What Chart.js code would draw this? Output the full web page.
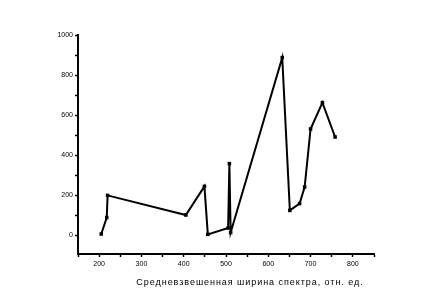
<!DOCTYPE html>
<html>
<head>
<meta charset="utf-8">
<script src="https://cdn.jsdelivr.net/npm/chart.js@4"></script>
<style>
html,body{margin:0;padding:0;background:#fff;}
#wrap{width:434px;height:305px;}
</style>
</head>
<body>
<div id="wrap"><canvas id="c" width="434" height="305"></canvas></div>
<script>
const xValues = [205, 218, 220, 405, 449, 457, 505, 508, 511, 633, 651, 674, 686, 700, 728, 758];
const yValues = [5, 87, 198, 100, 243, 3, 35, 357, 12, 887, 123, 157, 240, 530, 662, 490];
const xTickLabels = [200, 300, 400, 500, 600, 700, 800];
const yTickLabels = [0, 200, 400, 600, 800, 1000];
const xTitle = 'Средневзвешенная ширина спектра, отн. ед.';

const points = xValues.map((x, i) => ({x: x, y: yValues[i]}));

const titlePlugin = {
  id: 'xTitle',
  afterDraw(chart) {
    const ctx = chart.ctx;
    ctx.save();
    ctx.fillStyle = '#000';
    ctx.font = '9px "Liberation Sans", Arial, sans-serif';
    ctx.textBaseline = 'middle';
    ctx.textAlign = 'center';
    if ('letterSpacing' in ctx) ctx.letterSpacing = '0.95px';
    ctx.fillText(xTitle, 250, 283);
    ctx.restore();
  }
};

new Chart(document.getElementById('c'), {
  type: 'line',
  data: {
    datasets: [{
      data: points,
      borderColor: '#000',
      backgroundColor: '#000',
      borderWidth: 2,
      tension: 0,
      pointStyle: 'rect',
      pointRadius: 2.5,
      pointBorderWidth: 0,
      fill: false
    }]
  },
  options: {
    responsive: false,
    animation: false,
    layout: {padding: {left: 0, right: 60, top: 35, bottom: 0}},
    plugins: {legend: {display: false}, tooltip: {enabled: false}},
    scales: {
      x: {
        type: 'linear',
        min: 150, max: 850,
        afterFit(s) { s.height = 51; },
        afterBuildTicks(s) {
          const t = [];
          for (let v = 150; v <= 850; v += 50) t.push({value: v});
          s.ticks = t;
        },
        border: {display: true, color: '#000', width: 2},
        grid: {drawOnChartArea: false, drawTicks: true, tickLength: 3, color: '#000', tickWidth: 1.5},
        ticks: {
          autoSkip: false, maxRotation: 0, padding: 3, color: '#000',
          font: {size: 7, family: '"Liberation Sans", Arial, sans-serif'},
          callback: v => xTickLabels.includes(v) ? String(v) : ''
        }
      },
      y: {
        type: 'linear',
        min: -95, max: 1000,
        afterFit(s) { s.width = 78; },
        afterBuildTicks(s) {
          const t = [];
          for (let v = 0; v <= 1000; v += 100) t.push({value: v});
          s.ticks = t;
        },
        border: {display: true, color: '#000', width: 2},
        grid: {drawOnChartArea: false, drawTicks: true, tickLength: 3, color: '#000', tickWidth: 1.5},
        ticks: {
          autoSkip: false, padding: 2, color: '#000',
          font: {size: 7, family: '"Liberation Sans", Arial, sans-serif'},
          callback: v => yTickLabels.includes(v) ? String(v) : ''
        }
      }
    }
  },
  plugins: [titlePlugin]
});
</script>
</body>
</html>
